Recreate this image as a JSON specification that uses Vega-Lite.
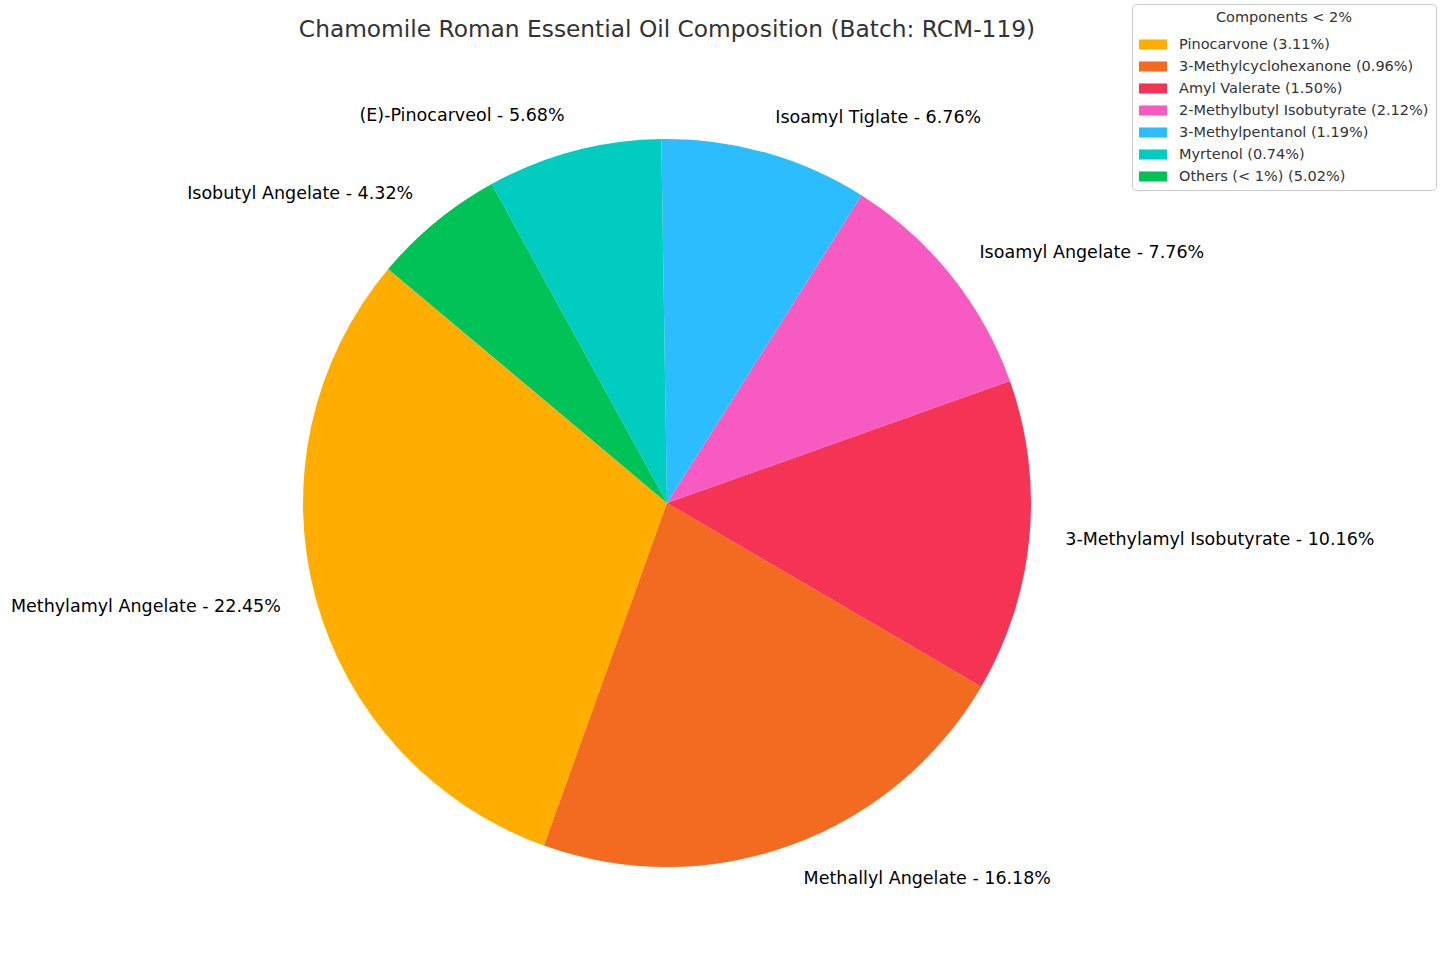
{
  "$schema": "https://vega.github.io/schema/vega-lite/v6.json",
  "autosize": "none",
  "width": 1334,
  "height": 934,
  "padding": {"left": 0, "top": 36, "right": 111, "bottom": 0},
  "background": "white",
  "config": {"view": {"stroke": null}, "font": "DejaVu Sans"},
  "title": {
    "text": "Chamomile Roman Essential Oil Composition (Batch: RCM-119)",
    "font": "DejaVu Sans",
    "fontSize": 23.3,
    "fontWeight": "normal",
    "color": "#333333",
    "anchor": "middle",
    "offset": -39
  },
  "datasets": {
    "slices": [
      {"name": "Methylamyl Angelate", "pct": 22.45, "label": "Methylamyl Angelate - 22.45%"},
      {"name": "Methallyl Angelate", "pct": 16.18, "label": "Methallyl Angelate - 16.18%"},
      {"name": "3-Methylamyl Isobutyrate", "pct": 10.16, "label": "3-Methylamyl Isobutyrate - 10.16%"},
      {"name": "Isoamyl Angelate", "pct": 7.76, "label": "Isoamyl Angelate - 7.76%"},
      {"name": "Isoamyl Tiglate", "pct": 6.76, "label": "Isoamyl Tiglate - 6.76%"},
      {"name": "(E)-Pinocarveol", "pct": 5.68, "label": "(E)-Pinocarveol - 5.68%"},
      {"name": "Isobutyl Angelate", "pct": 4.32, "label": "Isobutyl Angelate - 4.32%"}
    ],
    "minor": [
      {"item": "Pinocarvone (3.11%)"},
      {"item": "3-Methylcyclohexanone (0.96%)"},
      {"item": "Amyl Valerate (1.50%)"},
      {"item": "2-Methylbutyl Isobutyrate (2.12%)"},
      {"item": "3-Methylpentanol (1.19%)"},
      {"item": "Myrtenol (0.74%)"},
      {"item": "Others (< 1%) (5.02%)"}
    ]
  },
  "layer": [
    {
      "data": {"name": "slices"},
      "mark": {"type": "arc", "outerRadius": 364, "stroke": null},
      "encoding": {
        "theta": {"field": "pct", "type": "quantitative", "stack": true, "scale": {"range": [-0.872665, 5.410520]}},
        "order": {"field": "pct", "type": "quantitative", "sort": "ascending"},
        "color": {
          "field": "name", "type": "nominal", "legend": null,
          "scale": {
            "domain": ["Methylamyl Angelate", "Methallyl Angelate", "3-Methylamyl Isobutyrate", "Isoamyl Angelate", "Isoamyl Tiglate", "(E)-Pinocarveol", "Isobutyl Angelate"],
            "range": ["#FFAE00", "#F26B21", "#F53354", "#F75AC1", "#2BBDFD", "#00CCC0", "#00C257"]
          }
        }
      }
    },
    {
      "data": {"name": "slices"},
      "mark": {
        "type": "text", "radius": 400, "fontSize": 17.5, "font": "DejaVu Sans", "color": "black", "baseline": "middle",
        "align": {"expr": "indexof(['Methylamyl Angelate','(E)-Pinocarveol','Isobutyl Angelate'], datum.name) >= 0 ? 'right' : 'left'"}
      },
      "encoding": {
        "theta": {"field": "pct", "type": "quantitative", "stack": true},
        "order": {"field": "pct", "type": "quantitative", "sort": "ascending"},
        "text": {"field": "label", "type": "nominal"}
      }
    },
    {
      "data": {"name": "minor"},
      "mark": {"type": "square", "opacity": 0},
      "encoding": {
        "color": {
          "field": "item", "type": "nominal",
          "scale": {
            "domain": ["Pinocarvone (3.11%)", "3-Methylcyclohexanone (0.96%)", "Amyl Valerate (1.50%)", "2-Methylbutyl Isobutyrate (2.12%)", "3-Methylpentanol (1.19%)", "Myrtenol (0.74%)", "Others (< 1%) (5.02%)"],
            "range": ["#FFAE00", "#F26B21", "#F53354", "#F75AC1", "#2BBDFD", "#00CCC0", "#00C257"]
          },
          "legend": {
            "title": "Components < 2%",
            "orient": "none",
            "legendX": 1132,
            "legendY": -32,
            "titleFont": "DejaVu Sans",
            "titleFontSize": 14.5,
            "titleFontWeight": "normal",
            "titleColor": "#333333",
            "titleAnchor": "middle",
            "titleAlign": "center",
            "titlePadding": 5,
            "labelFont": "DejaVu Sans",
            "labelFontSize": 14.5,
            "labelColor": "#333333",
            "labelOffset": 12,
            "labelLimit": 400,
            "symbolType": "M-1,-0.36H1V0.36H-1Z",
            "symbolSize": 784,
            "symbolOpacity": 1,
            "symbolStrokeWidth": 0,
            "rowPadding": 1,
            "padding": 7,
            "strokeColor": "#cccccc",
            "fillColor": "white",
            "cornerRadius": 4
          }
        }
      }
    }
  ],
  "resolve": {"scale": {"color": "independent"}, "legend": {"color": "independent"}}
}
